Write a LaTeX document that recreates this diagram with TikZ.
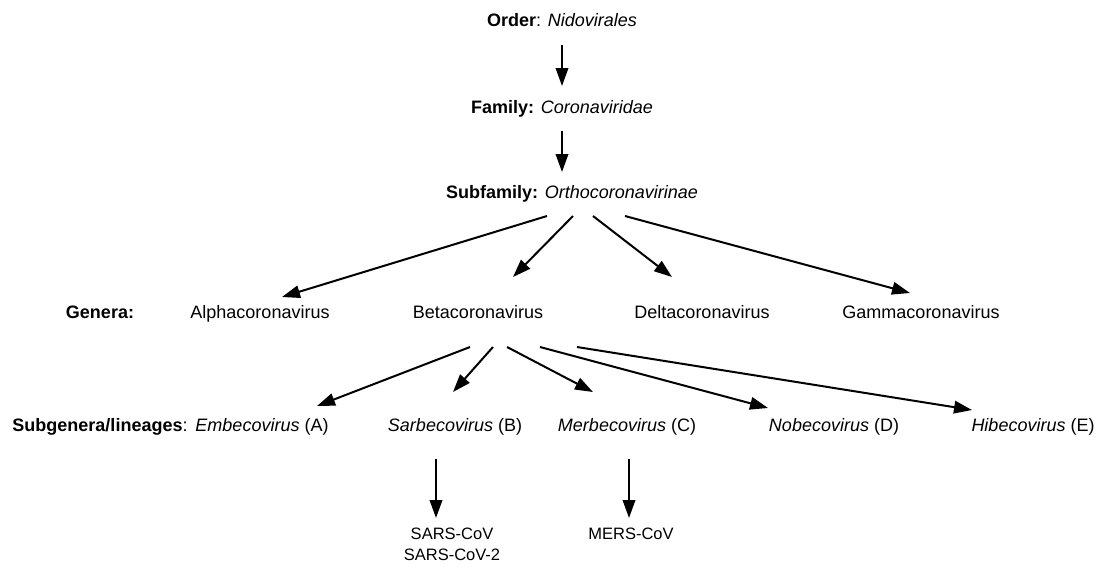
\documentclass[tikz,border=0pt]{standalone}
\usepackage{fontspec}
\setmainfont{Liberation Sans}
\usepackage{tikz}
\usetikzlibrary{arrows.meta,positioning}
\tikzset{
  taxon/.style={inner sep=0pt,text height=13pt,text depth=0pt,font=\fontsize{18}{21}\selectfont},
  virus/.style={inner sep=0pt,align=center,anchor=north,font=\fontsize{16.5}{21}\selectfont},
  flecha/.style={-{Triangle[length=18pt,width=12.5pt]},line width=2pt,black}
}

\begin{document}
\begin{tikzpicture}[x=1pt,y=-1pt]
\useasboundingbox (0,0) rectangle (1099,568);
% rangos superiores
\node[taxon] (orden) at (562,20) {\textbf{Order}: \textit{Nidovirales}};
\node[taxon] (familia) at (562,107) {\textbf{Family:} \textit{Coronaviridae}};
\node[taxon] (subfam) at (572,192) {\textbf{Subfamily:} \textit{Orthocoronavirinae}};
\draw[flecha] ([yshift=-25pt]orden.center) -- ([yshift=21pt]familia.center);
\draw[flecha] ([yshift=-24pt]familia.center) -- ([xshift=-10pt,yshift=20pt]subfam.center);
% generos
\node[taxon] (generos) at (100,312) {\textbf{Genera:}};
\node[taxon] (alpha) at (260,312) {Alphacoronavirus};
\node[taxon] (beta) at (478,312) {Betacoronavirus};
\node[taxon] (delta) at (702,312) {Deltacoronavirus};
\node[taxon] (gamma) at (921,312) {Gammacoronavirus};
\draw[flecha] ([xshift=-25pt,yshift=-24pt]subfam.center) -- ([xshift=22pt,yshift=15pt]alpha.center);
\draw[flecha] ([xshift=1pt,yshift=-24pt]subfam.center) -- ([xshift=35pt,yshift=35pt]beta.center);
\draw[flecha] ([xshift=21pt,yshift=-24pt]subfam.center) -- ([xshift=-30pt,yshift=35pt]delta.center);
\draw[flecha] ([xshift=53pt,yshift=-24pt]subfam.center) -- ([xshift=-11pt,yshift=19pt]gamma.center);
% subgeneros
\node[taxon] (linajes) at (100,425) {\textbf{Subgenera/lineages}:};
\node[taxon] (embe) at (262,425) {\textit{Embecovirus} (A)};
\node[taxon] (sarb) at (455,425) {\textit{Sarbecovirus} (B)};
\node[taxon] (merb) at (627,425) {\textit{Merbecovirus} (C)};
\node[taxon] (nobe) at (834,425) {\textit{Nobecovirus} (D)};
\node[taxon] (hibe) at (1033,425) {\textit{Hibecovirus} (E)};
\draw[flecha] ([xshift=-8pt,yshift=-35pt]beta.center) -- ([xshift=55pt,yshift=19pt]embe.center);
\draw[flecha] ([xshift=15pt,yshift=-35pt]beta.center) -- ([xshift=-2pt,yshift=33pt]sarb.center);
\draw[flecha] ([xshift=29pt,yshift=-35pt]beta.center) -- ([xshift=-34pt,yshift=33pt]merb.center);
\draw[flecha] ([xshift=62pt,yshift=-35pt]beta.center) -- ([xshift=-66pt,yshift=17pt]nobe.center);
\draw[flecha] ([xshift=99pt,yshift=-35pt]beta.center) -- ([xshift=-61pt,yshift=15pt]hibe.center);
% virus
\node[virus] (sars) at (452,528) {SARS-CoV\\SARS-CoV-2};
\node[virus] (mers) at (631,528) {MERS-CoV};
\draw[flecha] ([xshift=-19pt,yshift=-34pt]sarb.center) -- ([xshift=-16pt,yshift=10pt]sars.north);
\draw[flecha] ([xshift=2pt,yshift=-34pt]merb.center) -- ([xshift=-2pt,yshift=10pt]mers.north);
\end{tikzpicture}
\end{document}
